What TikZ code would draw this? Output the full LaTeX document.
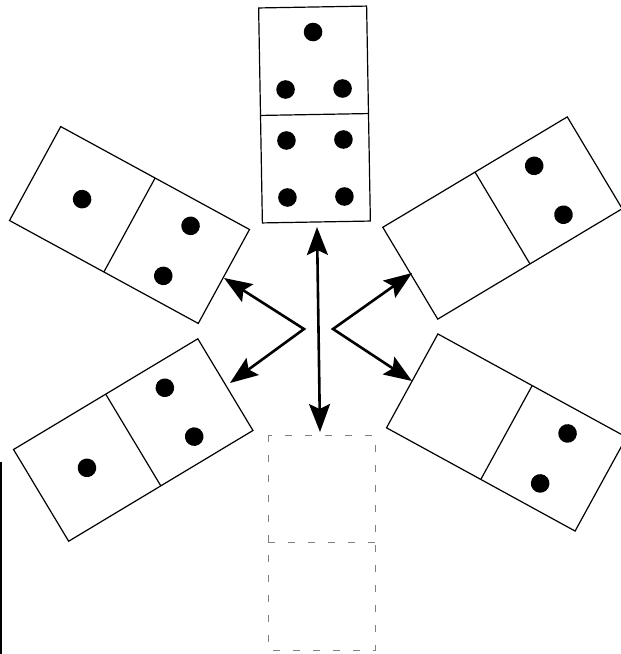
\documentclass[tikz,border=0pt]{standalone}
\usetikzlibrary{arrows.meta}
\begin{document}
\begin{tikzpicture}[x=1pt,y=-1pt,
  tile/.style={draw=black,line width=1.2pt,fill=white},
  ghost/.style={draw=black!50,line width=0.8pt,dash pattern=on 7pt off 13pt},
  pip/.style={fill=black},
  link/.style={line width=2.6pt,>={Stealth[length=28pt,width=21pt,inset=5pt]},<->}]
\useasboundingbox (0,0) rectangle (621,654);
\clip (0,0) rectangle (621,654);
% top domino (3 | 4)
\begin{scope}[shift={(314.5,114.5)},rotate=1]
  \draw[tile] (-54,-107.5) rectangle (54,107.5);
  \draw[tile] (-54,0) -- (54,0);
  \fill[pip] (0,-82.5) circle (9.3);
  \fill[pip] (-28.5,-25.5) circle (9.3);
  \fill[pip] (28.5,-25.5) circle (9.3);
  \fill[pip] (-28.5,25.5) circle (9.3);
  \fill[pip] (28.5,25.5) circle (9.3);
  \fill[pip] (-28.5,82.5) circle (9.3);
  \fill[pip] (28.5,82.5) circle (9.3);
\end{scope}
% top-left domino (1 | 2)
\begin{scope}[shift={(129.5,225)},rotate=-28.6]
  \draw[tile] (-107.5,-53.5) rectangle (107.5,53.5);
  \draw[tile] (0,-53.5) -- (0,53.5);
  \fill[pip] (-54,0) circle (9.3);
  \fill[pip] (54,28.5) circle (9.3);
  \fill[pip] (54,-28.5) circle (9.3);
\end{scope}
% bottom-left domino (1 | 2)
\begin{scope}[shift={(133.25,440)},rotate=31]
  \draw[tile] (-107.5,-53.5) rectangle (107.5,53.5);
  \draw[tile] (0,-53.5) -- (0,53.5);
  \fill[pip] (-54,0) circle (9.3);
  \fill[pip] (54,28.5) circle (9.3);
  \fill[pip] (54,-28.5) circle (9.3);
\end{scope}
% top-right domino (blank | 2)
\begin{scope}[shift={(502.5,218)},rotate=30.9]
  \draw[tile] (-107.5,-53.5) rectangle (107.5,53.5);
  \draw[tile] (0,-53.5) -- (0,53.5);
  \fill[pip] (54,28.5) circle (9.3);
  \fill[pip] (54,-28.5) circle (9.3);
\end{scope}
% bottom-right domino (blank | 2)
\begin{scope}[shift={(506.5,432.5)},rotate=-28.7]
  \draw[tile] (-107.5,-53.5) rectangle (107.5,53.5);
  \draw[tile] (0,-53.5) -- (0,53.5);
  \fill[pip] (54,28.5) circle (9.3);
  \fill[pip] (54,-28.5) circle (9.3);
\end{scope}
% dashed empty domino
\begin{scope}[shift={(321.5,542.5)}]
  \draw[ghost] (-53.5,-107.5) rectangle (53.5,107.5);
  \draw[ghost] (-53.5,0) -- (53.5,0);
\end{scope}
% arrows
\coordinate (vt) at (317,227);
\coordinate (vb) at (320,432);
\coordinate (lu) at (224,278);
\coordinate (lv) at (304,329);
\coordinate (ll) at (230,383);
\coordinate (ru) at (412,273);
\coordinate (rv) at (333,329);
\coordinate (rl) at (412,381);
\draw[link] (vt) -- (vb);
\draw[link,line join=miter] (lu) -- (lv) -- (ll);
\draw[link,line join=miter] (ru) -- (rv) -- (rl);
% page edge
\coordinate (e1) at (1,462);
\coordinate (e2) at (1,654);
\draw[line width=2pt] (e1) -- (e2);
\end{tikzpicture}
\end{document}
